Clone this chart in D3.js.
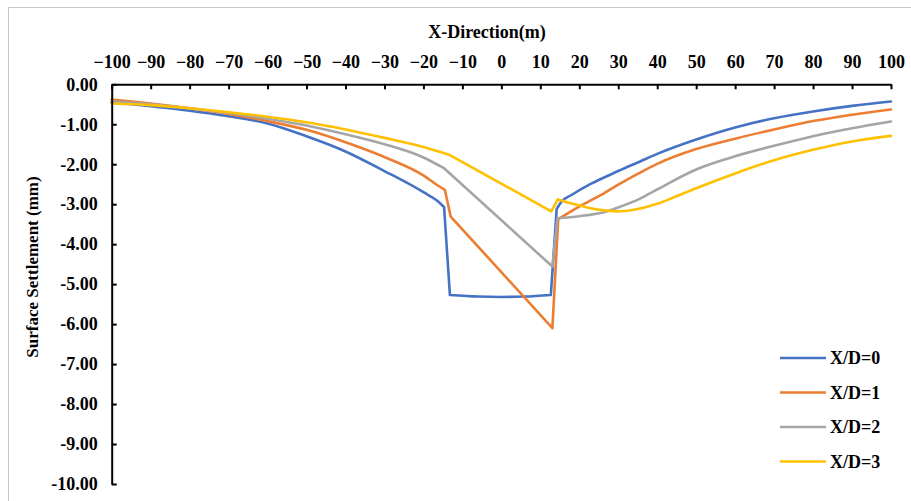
<!DOCTYPE html>
<html>
<head>
<meta charset="utf-8">
<script src="https://cdn.jsdelivr.net/npm/d3@7"></script>
<style>
  body { margin: 0; background: #fff; }
  svg text { font-family: "Liberation Serif", "Times New Roman", serif; font-weight: bold; fill: #000; }
</style>
</head>
<body>
<div id="chart"></div>
<script>
"use strict";
//values, settlement in mm
var xTicks = d3.range(-100, 101, 10);
var yTicks = d3.range(0, -10.01, -1);

var x0 = [-100, -90, -80, -70, -60, -50, -40, -30, -20, -16, -14.7, -13.2, -6, 0, 6, 12.7, 14.2, 15.5, 18, 22.8, 30, 35.6, 40, 50, 60, 70, 80, 90, 100];
var y0 = [-0.45, -0.55, -0.66, -0.8, -0.98, -1.3, -1.68, -2.17, -2.7, -2.95, -3.07, -5.27, -5.31, -5.32, -5.31, -5.27, -3.12, -2.93, -2.77, -2.5, -2.17, -1.93, -1.74, -1.38, -1.08, -0.85, -0.68, -0.54, -0.43];
var corners0 = [-14.7, -13.2, 12.7, 14.2];

var x1 = [-100, -90, -80, -70, -60, -50, -40, -30, -20, -16.5, -14.5, -13, 13.1, 14.6, 18, 20, 25, 30, 35, 40, 50, 60, 70, 80, 90, 100];
var y1 = [-0.38, -0.48, -0.6, -0.74, -0.92, -1.14, -1.45, -1.82, -2.28, -2.52, -2.64, -3.31, -6.1, -3.37, -3.17, -3.06, -2.8, -2.51, -2.24, -1.99, -1.62, -1.36, -1.13, -0.92, -0.76, -0.63];
var corners1 = [-14.5, -13, 13.1, 14.6];

var x2 = [-100, -90, -80, -70, -60, -50, -40, -30, -20, -14.7, 13.1, 14.4, 20, 27, 30, 35.6, 40, 50, 60, 70, 80, 90, 100];
var y2 = [-0.43, -0.5, -0.6, -0.72, -0.86, -1.03, -1.25, -1.5, -1.83, -2.1, -4.56, -3.35, -3.3, -3.18, -3.08, -2.86, -2.63, -2.13, -1.8, -1.54, -1.3, -1.1, -0.93];
var corners2 = [-14.7, 13.1, 14.4];

var x3 = [-100, -90, -80, -70, -60, -50, -40, -30, -20, -13.2, 12.8, 14.5, 18, 22, 27, 30, 34, 40, 44, 50, 60, 70, 80, 90, 100];
var y3 = [-0.48, -0.52, -0.6, -0.7, -0.81, -0.95, -1.13, -1.34, -1.57, -1.77, -3.18, -2.88, -2.98, -3.08, -3.16, -3.18, -3.14, -2.99, -2.84, -2.6, -2.23, -1.9, -1.64, -1.43, -1.29];
var corners3 = [-13.2, 12.8, 14.5];

var names = ["X/D=0", "X/D=1", "X/D=2", "X/D=3"];
var colors = ["#4472C4", "#ED7D31", "#A5A5A5", "#FFC000"];

//split a series at its sharp corners, each piece is smoothed on its own
function pieces(xs, ys, corners) {
  var out = [], cur = [];
  xs.forEach(function(v, j) {
    cur.push([v, ys[j]]);
    if (corners.indexOf(v) >= 0 && cur.length > 1) {
      out.push(cur);
      cur = [[v, ys[j]]];
    }
  });
  if (cur.length > 1) out.push(cur);
  return out;
}

var series = [[x0, y0, corners0], [x1, y1, corners1], [x2, y2, corners2], [x3, y3, corners3]].map(function(s, i) {
  return { name: names[i], color: colors[i], parts: pieces(s[0], s[1], s[2]) };
});

var w = 911, h = 501;

var svg = d3.select("#chart")
  .append("svg")
  .attr("width", w)
  .attr("height", h);

//light frame round the chart
svg.append("rect")
  .attr("x", 8.5)
  .attr("y", 7.5)
  .attr("width", w)
  .attr("height", h)
  .attr("fill", "none")
  .attr("stroke", "#c8c8c8")
  .attr("stroke-width", 1);

var x = d3.scaleLinear().domain([-100, 100]).range([111.7, 891]);
var y = d3.scaleLinear().domain([0, -10]).range([84.3, 484]);

var line = d3.line()
  .curve(d3.curveMonotoneX)
  .x(function(d) { return x(d[0]); })
  .y(function(d) { return y(d[1]); });

svg.append("g")
  .selectAll("path")
  .data(series)
  .join("path")
  .attr("d", function(d) {
    return d.parts.map(function(p) { return line(p); }).join("");
  })
  .attr("fill", "none")
  .attr("stroke", function(d) { return d.color; })
  .attr("stroke-width", 2.6)
  .attr("stroke-linejoin", "round")
  .attr("stroke-linecap", "round");

//top axis, ticks pointing into the plot
var xAxis = svg.append("g")
  .attr("transform", "translate(0," + y(0) + ")")
  .call(d3.axisTop(x).tickValues(xTicks).tickSizeInner(-5).tickSizeOuter(0).tickPadding(16));

xAxis.select(".domain").attr("stroke", "#000").attr("stroke-width", 2);
xAxis.selectAll(".tick line").attr("stroke", "#000").attr("stroke-width", 2);
xAxis.selectAll(".tick text").style("font-size", "18px");

var yAxis = svg.append("g")
  .attr("transform", "translate(" + x(-100) + ",0)")
  .call(d3.axisLeft(y).tickValues(yTicks).tickSizeInner(-5).tickSizeOuter(0).tickPadding(14)
    .tickFormat(function(d) { return d === 0 ? "0.00" : "-" + d3.format(".2f")(-d); }));

yAxis.select(".domain").attr("stroke", "#000").attr("stroke-width", 2);
yAxis.selectAll(".tick line").attr("stroke", "#000").attr("stroke-width", 2);
yAxis.selectAll(".tick text").style("font-size", "18px");

svg.append("text")
  .attr("x", 487)
  .attr("y", 38)
  .attr("text-anchor", "middle")
  .style("font-size", "18px")
  .text("X-Direction(m)");

svg.append("text")
  .attr("transform", "translate(38,267) rotate(-90)")
  .attr("text-anchor", "middle")
  .style("font-size", "17px")
  .text("Surface Settlement (mm)");

//legend
var legend = svg.append("g")
  .selectAll("g")
  .data(series)
  .join("g")
  .attr("transform", function(d, i) { return "translate(780," + (358 + i * 34.5) + ")"; });

legend.append("line")
  .attr("x1", 0)
  .attr("x2", 46)
  .attr("stroke", function(d) { return d.color; })
  .attr("stroke-width", 2.6);

legend.append("text")
  .attr("x", 50)
  .attr("dy", "0.35em")
  .style("font-size", "18px")
  .text(function(d) { return d.name; });
</script>
</body>
</html>
